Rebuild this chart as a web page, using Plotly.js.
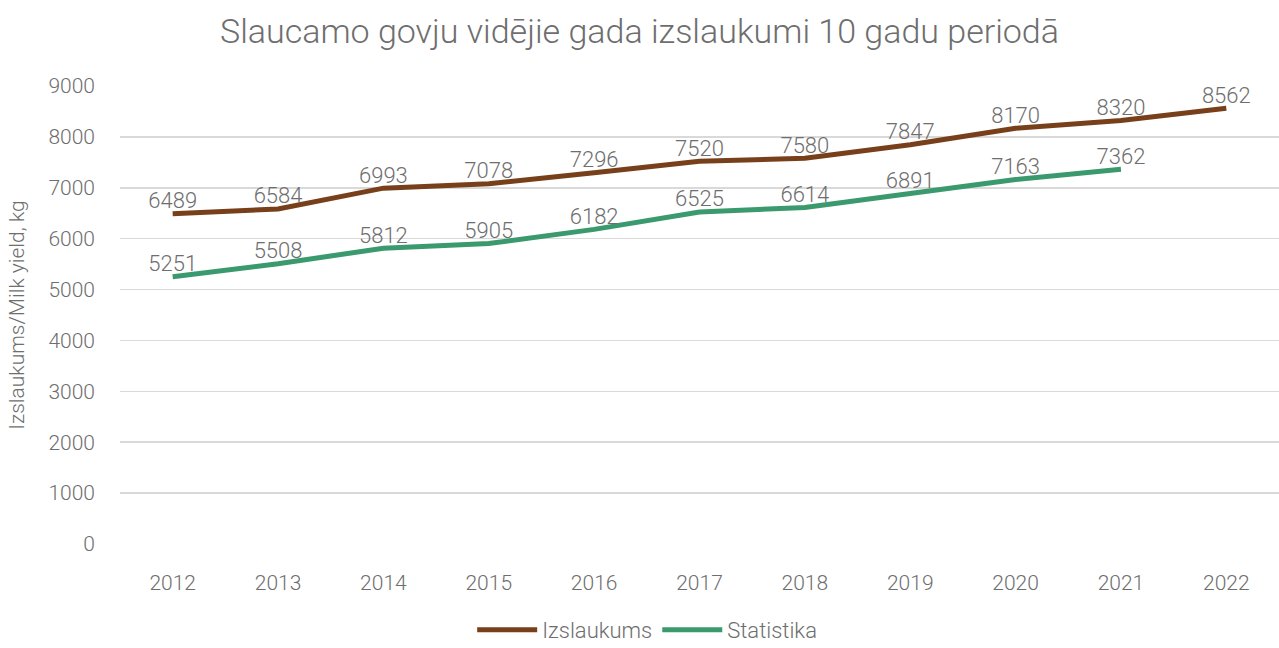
<!DOCTYPE html>
<html><head><meta charset="utf-8">
<script src="https://cdn.plot.ly/plotly-3.0.1.min.js"></script>
<style>body{margin:0;background:#fff}#c{width:1279px;height:648px}</style>
</head><body><div id="c"></div>
<script>
const years = ['2012','2013','2014','2015','2016','2017','2018','2019','2020','2021','2022'];
const izslaukums = [6489,6584,6993,7078,7296,7520,7580,7847,8170,8320,8562];
const statYears = ['2012','2013','2014','2015','2016','2017','2018','2019','2020','2021'];
const statistika = [5251,5508,5812,5905,6182,6525,6614,6891,7163,7362];
const F = 'Roboto, Lato, sans-serif';
const grey = '#6e6e6e';
const traces = [
 {x: years, y: izslaukums, name:'Izslaukums', type:'scatter', mode:'lines+text',
  line:{color:'#78401A', width:5}, text: izslaukums.map(String), textposition:'top center',
  textfont:{family:F, size:22, color:grey, weight:300}},
 {x: statYears, y: statistika, name:'Statistika', type:'scatter', mode:'lines+text',
  line:{color:'#3A9A6E', width:5}, text: statistika.map(String), textposition:'top center',
  textfont:{family:F, size:22, color:grey, weight:300}}
];
const layout = {
 width:1279, height:648,
 margin:{l:120, r:0, t:86, b:104, autoexpand:false},
 paper_bgcolor:'#fff', plot_bgcolor:'#fff',
 font:{family:F, color:grey, weight:300},
 title:{text:'Slaucamo govju vidējie gada izslaukumi 10 gadu periodā', x:0.5, xanchor:'center', y:0.952, yanchor:'middle',
   font:{family:F, size:34, color:grey, weight:300}},
 xaxis:{type:'category', range:[-0.5,10.5], showgrid:false, zeroline:false, showline:false, ticks:'', automargin:false,
   tickfont:{family:F, size:21, color:grey, weight:300}, ticklabelstandoff:24},
 yaxis:{range:[0,9000], dtick:1000, showgrid:true, gridcolor:'#d9d9d9', gridwidth:1.5, zeroline:false, showline:false, ticks:'', automargin:false,
   tickfont:{family:F, size:21, color:grey, weight:300}, ticklabelstandoff:24,
   title:{text:'Izslaukums/Milk yield, kg', font:{family:F, size:21, color:grey, weight:300}, standoff:18}},
 showlegend:true,
 legend:{orientation:'h', xref:'container', x:0.506, xanchor:'center', yref:'container', y:0.028, yanchor:'middle',
   font:{family:F, size:22, color:grey, weight:300}, itemwidth:60, tracegroupgap:0}
};
Plotly.newPlot('c', traces, layout, {displayModeBar:false, staticPlot:true});
</script></body></html>
